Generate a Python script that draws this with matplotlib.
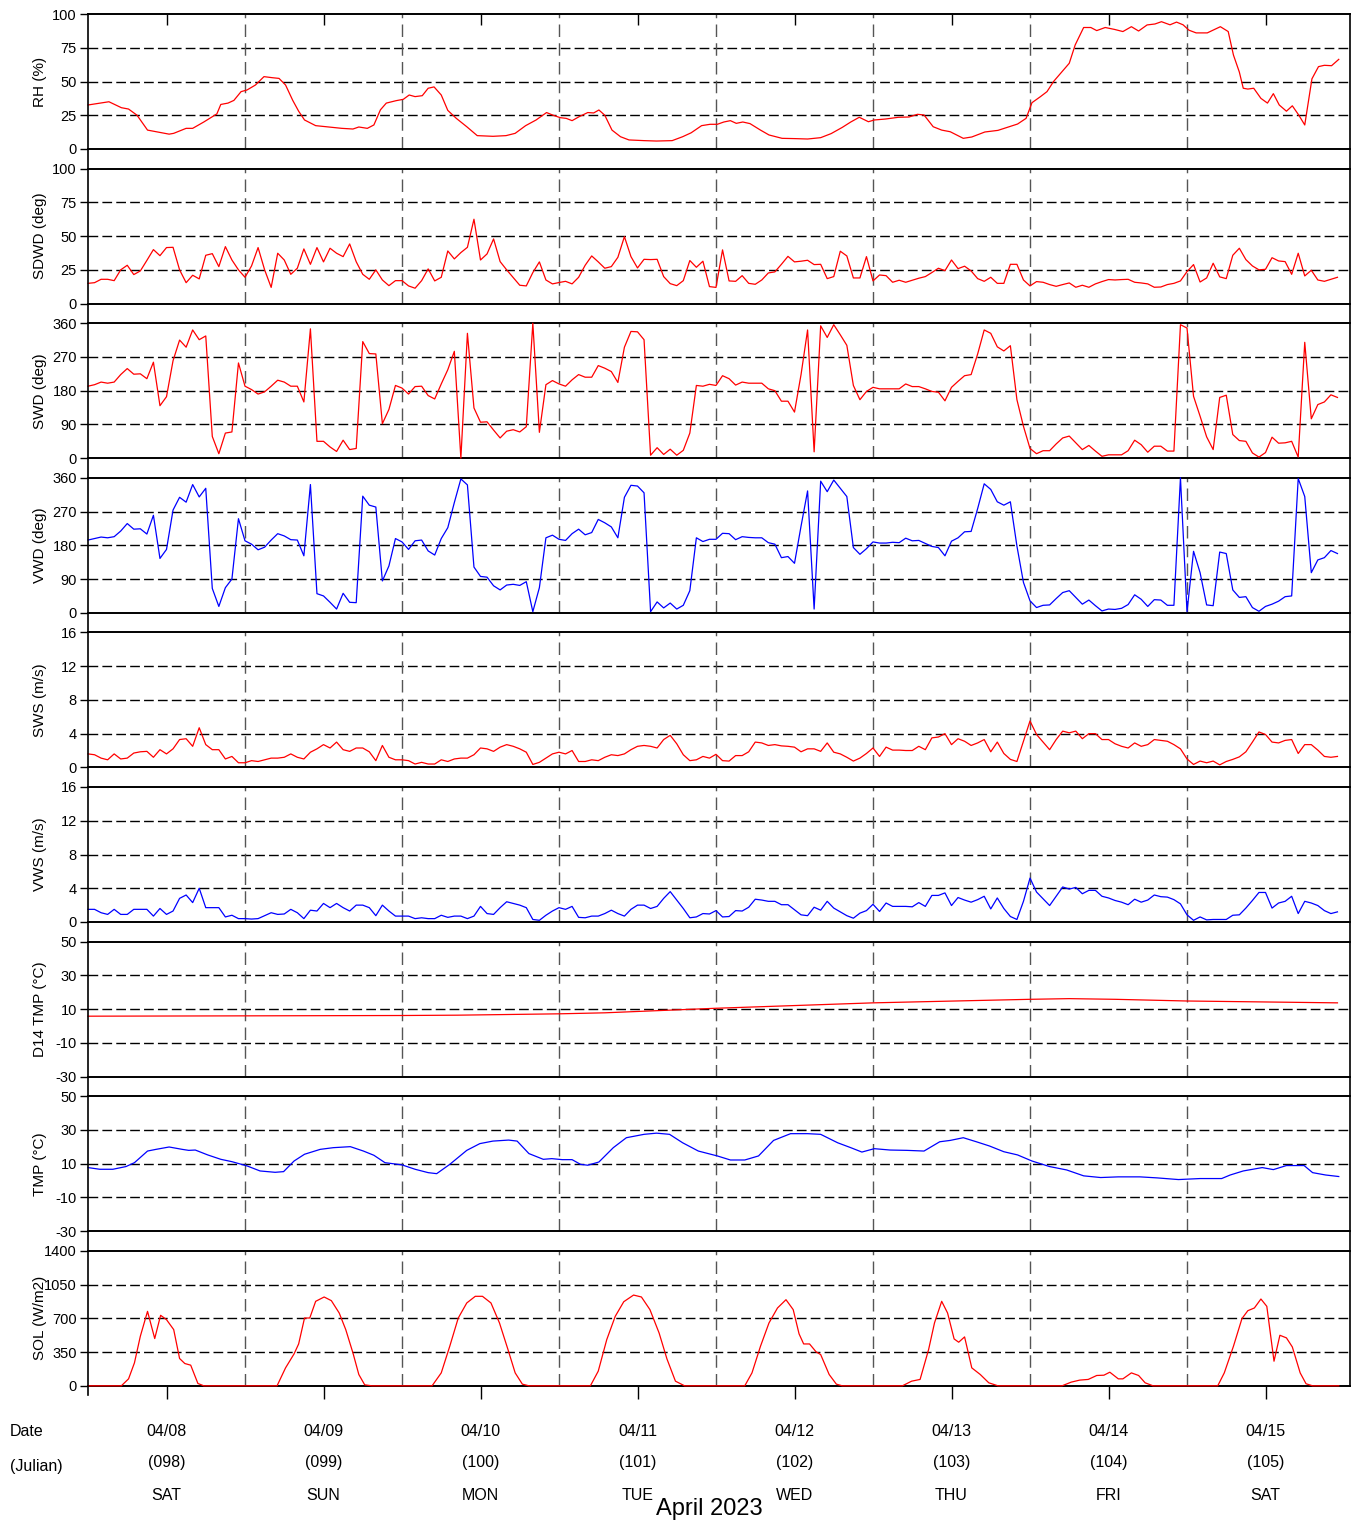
import numpy as np
import matplotlib
matplotlib.use('Agg')
import matplotlib.pyplot as plt
from matplotlib.lines import Line2D
from matplotlib import transforms

plt.rcParams['font.family'] = ['Liberation Sans', 'DejaVu Sans']

# ---- data (hours since 04/08 00:00) ----
rh_t = [0, 2.5, 3.2, 5.1, 6.2, 7.5, 9.1, 12.4, 13.1, 15.0, 16.0, 17.7, 19.7, 20.3, 21.4, 22.3, 23.4, 24.3,
        25.6, 26.9, 28.2, 29.2, 30.2, 31.3, 32.2, 33.1, 34.8, 36.8, 38.8, 40.5, 41.4, 42.7, 43.7, 44.7, 45.6,
        47.1, 48.2, 49.1, 50.0, 51.1, 52.0, 52.9, 54.0, 55.0, 56.3, 57.9, 59.5, 61.9, 63.9, 65.3, 66.9, 68.5,
        70.1, 71.1, 72.2, 73.1, 74.0, 75.1, 76.4, 77.3, 78.1, 79.0, 80.1, 81.4, 82.7, 85.0, 86.9, 89.3, 90.9,
        92.2, 93.8, 95.1, 96.2, 97.2, 98.2, 99.1, 100.1, 101.2, 102.8, 104.1, 106.1, 108.0, 110.0, 112.0,
        113.6, 115.3, 116.6, 117.9, 119.3, 120.2, 121.9, 123.9, 125.5, 126.8, 127.8, 129.2, 130.5, 131.8,
        133.8, 135.1, 137.1, 139.1, 140.4, 142.1, 143.4, 144.3, 145.6, 146.6, 147.6, 148.9, 150.0, 150.9,
        152.2, 153.3, 154.2, 155.5, 156.9, 158.2, 159.5, 160.6, 161.9, 163.1, 164.1, 165.4, 166.4, 167.4,
        168.3, 169.4, 171.1, 173.1, 174.3, 175.1, 176.0, 176.6, 177.3, 178.2, 179.3, 180.3, 181.2, 182.1,
        183.2, 184.1, 185.1, 186.0, 187.1, 188.1, 189.0, 190.1, 191.2]
rh_v = [32.6, 34.5, 35, 30.6, 29.6, 25, 14, 11, 11.6, 15.3, 15.3, 20, 26, 33, 34, 36, 42.5, 43.7,
        47.4, 53.6, 52.8, 52.3, 47.4, 36, 28, 21.5, 17.3, 16.3, 15.3, 14.8, 16.3, 15.3, 17.8, 29, 34,
        35.8, 36.8, 40, 38.8, 39.5, 45, 46, 40, 28.6, 22.7, 16.5, 9.9, 9.4, 9.9, 11.6, 17.3, 21.5,
        27, 25, 23.2, 22.7, 21, 24, 27, 26.7, 28.9, 25, 14, 9.1, 6.7, 6.2, 5.9, 6.2, 9.1,
        12, 17.3, 18.3, 18.3, 20, 21, 19, 20, 18.8, 14, 10.4, 7.9, 7.7, 7.4, 8.4,
        11.4, 16, 20, 23.5, 20.2, 21.5, 22.2, 23.5, 23.7, 25.7, 25.2, 16.5, 14, 12.8,
        7.9, 8.9, 12.6, 13.8, 15.8, 18.5, 22.7, 34.3, 38.8, 42.5, 50, 57.3, 63.5, 77,
        90, 90, 87.7, 90, 88.6, 87, 90.6, 87.4, 91.9, 92.6, 94.3, 92, 94, 92,
        88, 86, 86, 90.6, 87, 69.6, 57, 45, 44.4, 45, 37.5, 34, 41, 32.6,
        28, 32, 25, 17.8, 52, 61, 62, 61.7, 66.4]

sdwd = [15, 15.5, 18, 18, 17, 25, 28.4, 21.5, 24.2, 32, 40, 35.5, 41.5, 41.7, 25, 15.5, 21, 18.3, 35.8, 37, 27.4, 42.2, 32.3, 25,
        19.5, 27.9, 41.5, 25, 12, 37.3, 32.3, 21.7, 26.2, 40.5, 29.1, 41.5, 30.9, 41, 37.3, 34.8, 44.2, 31, 21.7, 18, 25, 17.5, 13.3, 17,
        17, 13.1, 11.4, 17, 25.7, 16.8, 19.5, 39, 33.1, 37.8, 41.7, 62.5, 32.3, 36.8, 47.9, 31.1, 25, 19.3, 13.6, 13.1, 23, 30.9, 17.5, 14.6,
        15.6, 16.5, 14.6, 19.5, 28.4, 35.3, 30.9, 26.2, 27.4, 34.3, 49.6, 34.8, 26.4, 32.8, 32.6, 32.8, 20, 14.8, 13.3, 17, 31.9, 26.9, 31.4, 12.6,
        12, 39.8, 16.8, 16.5, 20.7, 15, 14.3, 17.5, 22.7, 23.5, 29.1, 35, 30.9, 31.4, 32.1, 28.9, 29.1, 18.5, 20, 38.8, 35.3, 19, 19, 34.8,
        16.8, 21.2, 20.7, 15.8, 17.3, 15.8, 17.3, 18.8, 20, 23, 26.2, 24.4, 32.3, 25.9, 27.7, 24.2, 18.5, 16.5, 19.5, 15, 15, 29.1, 29.1, 17.5,
        13.1, 16.3, 15.8, 14.1, 12.8, 14.1, 15.3, 12.1, 13.6, 12.1, 14.6, 16.3, 17.8, 17.5, 17.8, 18, 15.8, 15.3, 14.6, 12.1, 12.3, 14.1, 15, 16.8,
        23.7, 28.9, 16, 19, 29.9, 19.8, 18.5, 35.8, 41, 32.6, 27.9, 25, 25.4, 34, 31.6, 31.1, 21.7, 37.3, 20.5, 24.7, 17.5, 16.5, 18, 19.5]

swd = [192, 196, 203, 200, 203, 223, 239, 224, 225, 212, 256, 140, 164, 260, 315, 296, 342, 316, 326, 58, 12, 67, 70, 254,
       192, 183, 171, 177, 192, 208, 203, 192, 192, 150, 345, 45, 45, 30, 18, 48, 23, 26, 311, 279, 278, 92, 130, 194,
       187, 171, 191, 192, 167, 158, 198, 236, 285, 0, 333, 134, 96, 97, 75, 54, 72, 76, 70, 84, 360, 69, 196, 207,
       198, 192, 209, 223, 216, 216, 247, 240, 231, 202, 296, 338, 337, 316, 8, 28, 10, 24, 8, 21, 67, 194, 192, 197,
       194, 220, 212, 195, 203, 200, 200, 200, 185, 180, 152, 152, 123, 223, 342, 17, 353, 322, 356, 329, 301, 194, 156, 178,
       189, 185, 185, 185, 185, 198, 191, 191, 185, 178, 176, 153, 189, 205, 220, 223, 278, 342, 333, 297, 286, 300, 156, 85,
       26, 12, 20, 20, 38, 54, 59, 41, 23, 34, 19, 5, 9, 9, 9, 20, 48, 36, 16, 32, 32, 19, 19, 356,
       347, 165, 112, 57, 23, 162, 168, 63, 47, 45, 14, 3, 15, 56, 40, 41, 45, 3, 309, 105, 143, 150, 169, 162]

vwd = [194, 198, 202, 200, 203, 218, 238, 223, 224, 210, 260, 145, 169, 274, 308, 295, 342, 309, 332, 65, 17, 67, 90, 251,
       192, 183, 168, 175, 194, 211, 205, 195, 194, 152, 342, 51, 45, 28, 10, 52, 28, 27, 311, 287, 282, 85, 125, 198,
       189, 169, 192, 194, 165, 154, 198, 227, 294, 357, 341, 122, 97, 95, 72, 61, 74, 76, 73, 83, 3, 67, 200, 207,
       196, 193, 211, 223, 208, 214, 249, 240, 229, 200, 308, 340, 338, 320, 3, 29, 13, 26, 10, 20, 59, 200, 190, 196,
       196, 212, 211, 195, 203, 201, 200, 200, 187, 183, 147, 150, 132, 231, 325, 10, 351, 323, 354, 332, 310, 174, 156, 171,
       189, 186, 186, 188, 187, 199, 192, 193, 185, 177, 174, 152, 191, 200, 216, 217, 278, 344, 329, 296, 287, 296, 178, 81,
       32, 14, 20, 21, 38, 54, 59, 41, 23, 34, 19, 5, 10, 9, 12, 22, 48, 36, 17, 35, 34, 20, 20, 360,
       3, 164, 107, 21, 19, 162, 158, 61, 41, 43, 14, 4, 17, 23, 31, 43, 45, 358, 310, 107, 141, 147, 166, 158]

sws = [1.6, 1.5, 1.1, 0.9, 1.6, 1.0, 1.1, 1.7, 1.85, 1.9, 1.2, 2.1, 1.6, 2.2, 3.3, 3.4, 2.5, 4.7, 2.7, 2.1, 2.1, 1.0, 1.3, 0.55,
       0.55, 0.8, 0.7, 0.9, 1.1, 1.1, 1.2, 1.6, 1.2, 1.0, 1.8, 2.2, 2.7, 2.3, 3.0, 2.1, 1.9, 2.3, 2.3, 1.85, 0.8, 2.6, 1.2, 0.9,
       0.9, 0.8, 0.4, 0.6, 0.4, 0.4, 0.9, 0.7, 1.0, 1.1, 1.1, 1.5, 2.3, 2.2, 1.9, 2.4, 2.7, 2.5, 2.2, 1.8, 0.35, 0.6, 1.1, 1.6,
       1.8, 1.6, 2.0, 0.7, 0.7, 0.9, 0.8, 1.2, 1.5, 1.4, 1.6, 2.1, 2.5, 2.6, 2.5, 2.3, 3.3, 3.8, 2.8, 1.5, 0.8, 0.9, 1.3, 1.1,
       1.55, 0.8, 0.75, 1.4, 1.4, 1.85, 3.0, 2.9, 2.6, 2.7, 2.55, 2.5, 2.4, 1.85, 2.2, 2.2, 1.9, 2.9, 1.8, 1.6, 1.2, 0.75, 1.1, 1.65,
       2.3, 1.3, 2.4, 2.05, 2.05, 2.0, 2.0, 2.5, 2.1, 3.5, 3.6, 4.0, 2.7, 3.4, 3.1, 2.6, 2.9, 3.3, 1.85, 3.0, 1.65, 0.95, 0.7, 3.1,
       5.5, 3.9, 3.0, 2.1, 3.3, 4.3, 4.1, 4.3, 3.4, 4.0, 4.0, 3.3, 3.3, 2.8, 2.5, 2.3, 2.9, 2.5, 2.7, 3.3, 3.2, 3.1, 2.7, 2.2,
       1.0, 0.35, 0.75, 0.55, 0.75, 0.3, 0.7, 0.95, 1.25, 1.85, 3.0, 4.2, 3.9, 3.0, 2.9, 3.2, 3.3, 1.65, 2.7, 2.7, 2.05, 1.3, 1.2, 1.3]

vws = [1.5, 1.5, 1.1, 0.9, 1.5, 0.9, 0.9, 1.5, 1.5, 1.5, 0.7, 1.6, 0.9, 1.3, 2.8, 3.2, 2.3, 4.0, 1.7, 1.7, 1.7, 0.6, 0.8, 0.4,
       0.4, 0.35, 0.4, 0.75, 1.1, 0.9, 0.95, 1.5, 1.1, 0.4, 1.4, 1.3, 2.2, 1.7, 2.2, 1.7, 1.3, 2.0, 2.0, 1.7, 0.75, 2.0, 1.3, 0.7,
       0.7, 0.7, 0.4, 0.5, 0.4, 0.4, 0.8, 0.55, 0.7, 0.7, 0.4, 0.7, 1.85, 1.0, 0.9, 1.7, 2.4, 2.2, 2.0, 1.7, 0.3, 0.2, 0.8, 1.3,
       1.7, 1.5, 1.85, 0.55, 0.5, 0.7, 0.7, 1.0, 1.4, 1.0, 0.7, 1.5, 2.0, 2.0, 1.6, 1.85, 2.8, 3.6, 2.6, 1.6, 0.5, 0.6, 1.0, 0.95,
       1.35, 0.6, 0.65, 1.35, 1.3, 1.75, 2.7, 2.6, 2.45, 2.45, 2.05, 2.05, 1.45, 0.85, 0.75, 1.75, 1.4, 2.45, 1.65, 1.2, 0.75, 0.45, 1.05, 1.35,
       2.1, 1.25, 2.25, 1.85, 1.85, 1.85, 1.8, 2.3, 1.85, 3.15, 3.15, 3.45, 1.95, 2.9, 2.6, 2.35, 2.65, 3.05, 1.55, 2.85, 1.6, 0.65, 0.3, 2.45,
       5.2, 3.55, 2.75, 1.95, 3.05, 4.15, 3.9, 4.1, 3.35, 3.75, 3.75, 3.05, 2.85, 2.55, 2.35, 2.05, 2.7, 2.35, 2.6, 3.2, 3.0, 2.95, 2.65, 2.15,
       0.85, 0.2, 0.6, 0.25, 0.3, 0.3, 0.3, 0.8, 0.85, 1.65, 2.55, 3.5, 3.5, 1.65, 2.25, 2.45, 3.05, 1.0, 2.45, 2.25, 1.95, 1.35, 1.0, 1.2]

d14_t = [0, 24, 48, 56.5, 72, 79, 96, 120, 144, 150, 157, 168, 191]
d14_v = [5.8, 6.0, 6.2, 6.4, 7.2, 7.8, 10.5, 13.7, 15.8, 16.2, 15.8, 14.8, 13.7]

tmp_t = [0, 1.8, 3.8, 5.8, 7.1, 9.1, 10.4, 12.4, 14.4, 15.4, 16.4, 18.3, 20.3, 22, 24.3, 26.3, 28.6, 29.9,
         31.5, 33.1, 35.5, 37.5, 40.1, 42.1, 43.7, 45.4, 48, 50, 52, 53.3, 55.3, 57.9, 59.9, 61.9, 64.3, 65.6,
         67.4, 69.6, 70.9, 72.5, 74, 75.3, 76.4, 78.1, 80.3, 82.3, 85, 86.9, 88.9, 90.9, 93.3, 96.2, 98.2,
         100.4, 102.5, 104.8, 107.4, 110, 112, 114.6, 116.6, 118.3, 120.2, 122.6, 125.2, 127.8, 130.2, 131.8,
         133.8, 135.8, 137.8, 140, 142.1, 144.3, 147, 149.6, 152.2, 154.8, 157.5, 160.8, 163.4, 166.7, 170,
         173.3, 174.6, 176.6, 179.5, 181.2, 183.2, 185.9, 187.2, 189.2, 191.2]
tmp_v = [7.7, 6.7, 6.7, 8.3, 10.6, 17.5, 18.5, 19.9, 18.5, 17.9, 18.1, 15.2, 12.6, 11.2, 8.7, 5.7, 4.9, 5.3,
         11.6, 15.6, 18.5, 19.5, 20.1, 17.5, 15, 10.6, 9.3, 6.7, 4.7, 4.1, 9.6, 17.9, 21.9, 23.4, 24, 23.4,
         16, 12.6, 13, 12.4, 12.4, 9.6, 9.1, 11, 19.5, 25.4, 27.4, 28.1, 27.4, 22.4, 17.5, 14.6, 12.2,
         12.2, 14.6, 23.8, 27.8, 27.8, 27.4, 22.4, 19.5, 16.9, 18.9, 18.1, 17.9, 17.5, 23, 23.8,
         25.4, 23, 20.5, 17.1, 15.2, 11.6, 8.3, 6.3, 2.8, 1.8, 2.2, 2.2, 1.6, 0.6, 1.2,
         1.2, 3.3, 5.7, 7.7, 6.5, 8.9, 8.9, 4.7, 3.3, 2.4]

sol_t = [0, 5.1, 6.2, 7.1, 8, 9.1, 10.2, 11.1, 12, 13.1, 14, 14.8, 15.7, 16.8, 17.7,
         28.9, 30.2, 31.5, 32.2, 33.1, 33.9, 34.8, 36.1, 37.2, 38.4, 39.4, 40.5, 41.4, 42.3, 43.4,
         52.6, 54, 55.3, 56.6, 57.9, 59.2, 60.3, 61.6, 62.9, 64.2, 65.3, 66.4, 67.4,
         76.8, 78, 79.3, 80.6, 81.9, 83.4, 84.6, 85.9, 87.3, 88.5, 89.8, 91.2,
         100.4, 101.5, 102.8, 104.1, 105.4, 106.7, 107.8, 108.7, 109.4, 110.3, 111.3, 112, 113.3, 114.4, 115.3,
         124.5, 125.9, 127.2, 128.5, 129.4, 130.5, 131.4, 132.4, 133.1, 134, 135.1, 136.4, 137.7, 139.1,
         148.9, 150.3, 151.6, 152.9, 154.2, 155.3, 156.2, 157.5, 158.2, 159.5, 160.6, 161.6, 162.8,
         172.7, 173.7, 175.1, 176.4, 177.3, 178.3, 179.3, 180.2, 181.3, 182.2, 183.2, 184.1, 185.3, 186.2, 187.2, 191.2]
sol_v = [0, 0, 72, 238, 514, 772, 490, 731, 686, 583, 283, 231, 214, 24, 0,
         0, 186, 331, 434, 703, 703, 876, 921, 883, 755, 583, 341, 117, 10, 0,
         0, 134, 410, 703, 859, 928, 928, 859, 652, 376, 134, 17, 0,
         0, 152, 479, 721, 872, 941, 921, 790, 548, 279, 48, 0,
         0, 134, 410, 652, 807, 893, 790, 538, 434, 434, 352, 324, 117, 17, 0,
         0, 48, 66, 376, 652, 876, 755, 486, 452, 507, 186, 117, 31, 0,
         0, 38, 59, 66, 107, 110, 141, 72, 72, 134, 107, 31, 0,
         0, 134, 410, 697, 779, 807, 900, 824, 255, 524, 497, 403, 134, 21, 0, 0]

dates = ['04/08', '04/09', '04/10', '04/11', '04/12', '04/13', '04/14', '04/15']
julian = ['(098)', '(099)', '(100)', '(101)', '(102)', '(103)', '(104)', '(105)']
weekdays = ['SAT', 'SUN', 'MON', 'TUE', 'WED', 'THU', 'FRI', 'SAT']

hours = np.arange(192)
RED, BLUE = '#ff0000', '#0000ff'

panels = [
    ('RH (%)', [0, 25, 50, 75, 100], rh_t, rh_v, RED),
    ('SDWD (deg)', [0, 25, 50, 75, 100], hours, sdwd, RED),
    ('SWD (deg)', [0, 90, 180, 270, 360], hours, swd, RED),
    ('VWD (deg)', [0, 90, 180, 270, 360], hours, vwd, BLUE),
    ('SWS (m/s)', [0, 4, 8, 12, 16], hours, sws, RED),
    ('VWS (m/s)', [0, 4, 8, 12, 16], hours, vws, BLUE),
    ('D14 TMP (\u00b0C)', [-30, -10, 10, 30, 50], d14_t, d14_v, RED),
    ('TMP (\u00b0C)', [-30, -10, 10, 30, 50], tmp_t, tmp_v, BLUE),
    ('SOL (W/m2)', [0, 350, 700, 1050, 1400], sol_t, sol_v, RED),
]

# ---- layout in pixels ----
W, H = 1352, 1523
fig = plt.figure(figsize=(W / 100, H / 100), dpi=100)
x0, x1 = 88, 1350
px_per_h = (1344 - 88) / 192.0
xmax = (x1 - x0) / px_per_h
top0, step, ph = 14, 154.6, 135

axes = []
for i, (label, ticks, t, v, col) in enumerate(panels):
    top = top0 + i * step
    ax = fig.add_axes([x0 / W, 1 - (top + ph) / H, (x1 - x0) / W, ph / H])
    ax.plot(t, v, color=col, lw=0.9, zorder=3, clip_on=False)
    ax.set_xlim(0, xmax)
    ax.set_ylim(ticks[0], ticks[-1])
    ax.set_yticks(ticks)
    ax.set_yticklabels([str(k) for k in ticks])
    for k in ticks[1:-1]:
        ax.axhline(k, color='black', lw=1.0, ls=(0, (7, 3)))
    for d in range(24, 192, 24):
        ax.axvline(d, color='#555555', lw=1.0, ls=(0, (9, 4.5)))
    for s in ['left', 'right']:
        ax.spines[s].set_visible(False)
    for s in ['top', 'bottom']:
        ax.spines[s].set_linewidth(1.4)
    ax.tick_params(axis='y', direction='out', length=6, width=1, labelsize=10.5, pad=2)
    ax.set_xticks([])
    fig.text(40 / W, 1 - (top + ph / 2) / H, label, rotation=90, ha='center', va='center', fontsize=11)
    axes.append(ax)

noon = [12 + 24 * k for k in range(8)]
axes[0].set_xticks(noon)
axes[0].tick_params(axis='x', bottom=False, top=True, direction='in', length=8, width=1, labelbottom=False)
axes[-1].set_xticks(noon)
axes[-1].tick_params(axis='x', bottom=True, direction='out', length=9, width=1, labelbottom=False)

# continuous left / right frame lines
y_top = 1 - top0 / H
y_bot = 1 - (top0 + 8 * step + ph) / H
fig.add_artist(Line2D([x0 / W, x0 / W], [y_top, y_bot - 9 / H], color='black', lw=1.2))
fig.add_artist(Line2D([x1 / W, x1 / W], [y_top, y_bot], color='black', lw=1.2))

# date labels
tr = transforms.blended_transform_factory(axes[-1].transData, fig.transFigure)
for k in range(8):
    axes[-1].text(noon[k], 1 - 1432 / H, dates[k], transform=tr, ha='center', va='center', fontsize=11.5)
    axes[-1].text(noon[k], 1 - 1462 / H, julian[k], transform=tr, ha='center', va='center', fontsize=11.5)
    axes[-1].text(noon[k], 1 - 1495 / H, weekdays[k], transform=tr, ha='center', va='center', fontsize=11.5)
fig.text(10 / W, 1 - 1432 / H, 'Date', ha='left', va='center', fontsize=11.5)
fig.text(10 / W, 1 - 1466 / H, '(Julian)', ha='left', va='center', fontsize=11.5)
fig.text(709 / W, 1 - 1509 / H, 'April 2023', ha='center', va='center', fontsize=17)

fig.savefig('out.png', dpi=100)
